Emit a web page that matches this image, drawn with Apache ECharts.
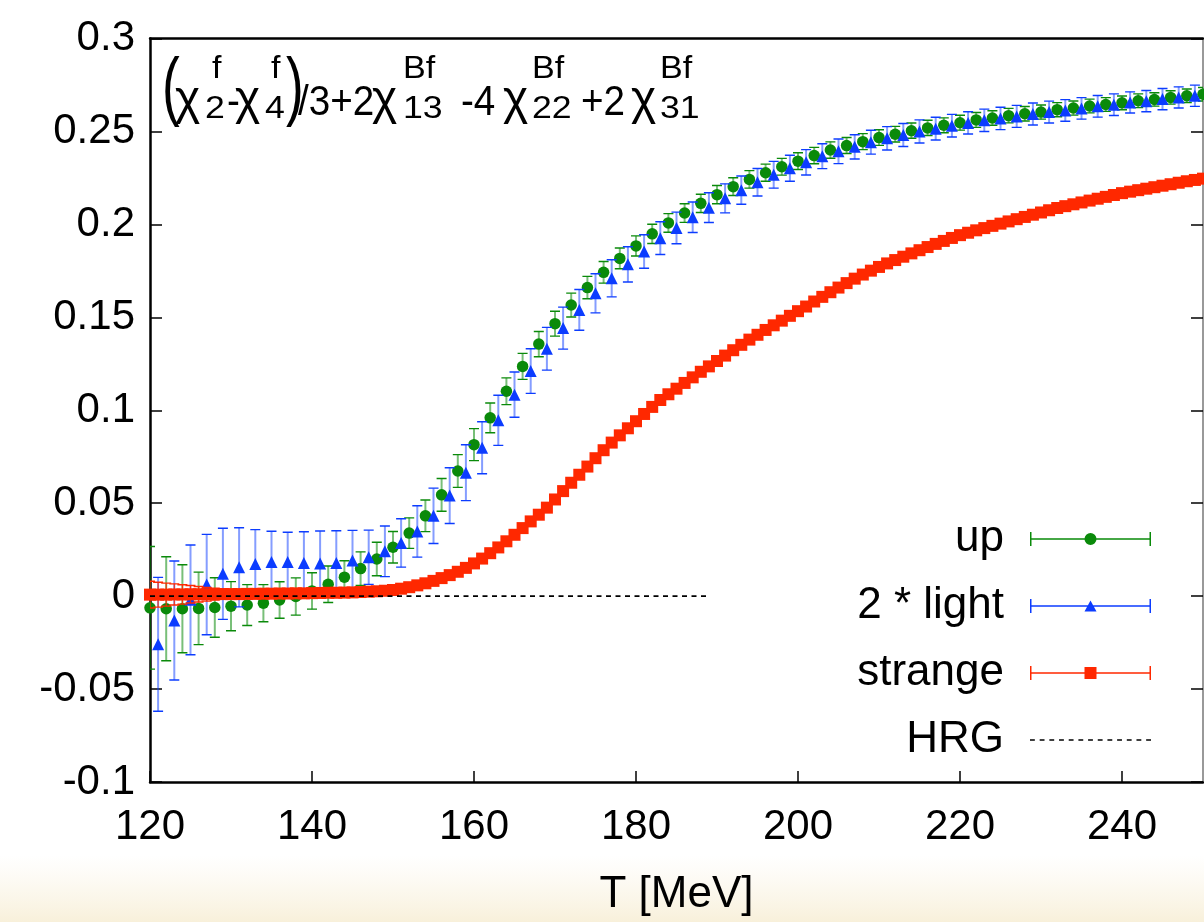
<!DOCTYPE html>
<html><head><meta charset="utf-8">
<script src="https://cdn.jsdelivr.net/npm/echarts@6/dist/echarts.min.js"></script>
<style>html,body{margin:0;padding:0;background:#fff}#c{width:1204px;height:922px}</style>
</head><body><div id="c"></div><script>
// ---------------- data ----------------
const upT = [120,122,124,126,128,130,132,134,136,138,140,142,144,146,148,150,152,154,156,158,160,162,164,166,168,170,172,174,176,178,180,182,184,186,188,190,192,194,196,198,200,202,204,206,208,210,212,214,216,218,220,222,224,226,228,230,232,234,236,238,240,242,244,246,248,250];
const upV = [-0.0063,-0.0068,-0.0068,-0.0066,-0.0061,-0.0054,-0.0048,-0.0038,-0.0021,-0.0002,0.0028,0.0064,0.0102,0.0148,0.0200,0.0263,0.0339,0.0432,0.0545,0.0673,0.0815,0.0959,0.1102,0.1236,0.1356,0.1466,0.1566,0.1660,0.1742,0.1817,0.1884,0.1949,0.2008,0.2061,0.2113,0.2160,0.2203,0.2242,0.2278,0.2310,0.2340,0.2370,0.2400,0.2424,0.2445,0.2467,0.2485,0.2504,0.2519,0.2533,0.2547,0.2562,0.2572,0.2585,0.2595,0.2604,0.2617,0.2626,0.2637,0.2645,0.2654,0.2665,0.2672,0.2683,0.2692,0.2700];
const upE = [0.0330,0.0280,0.0237,0.0195,0.0160,0.0132,0.0110,0.0100,0.0098,0.0100,0.0098,0.0098,0.0088,0.0090,0.0090,0.0085,0.0082,0.0085,0.0088,0.0088,0.0086,0.0080,0.0072,0.0070,0.0068,0.0067,0.0064,0.0060,0.0058,0.0056,0.0054,0.0052,0.0050,0.0050,0.0049,0.0049,0.0048,0.0047,0.0046,0.0045,0.0045,0.0044,0.0044,0.0043,0.0043,0.0042,0.0042,0.0041,0.0041,0.0040,0.0040,0.0040,0.0039,0.0039,0.0039,0.0038,0.0038,0.0038,0.0037,0.0037,0.0037,0.0037,0.0036,0.0036,0.0036,0.0036];

const lightT = [121,123,125,127,129,131,133,135,137,139,141,143,145,147,149,151,153,155,157,159,161,163,165,167,169,171,173,175,177,179,181,183,185,187,189,191,193,195,197,199,201,203,205,207,209,211,213,215,217,219,221,223,225,227,229,231,233,235,237,239,241,243,245,247,249];
const lightV = [-0.0259,-0.0131,-0.0020,0.0062,0.0120,0.0155,0.0173,0.0184,0.0184,0.0178,0.0175,0.0178,0.0191,0.0209,0.0241,0.0286,0.0348,0.0432,0.0541,0.0664,0.0798,0.0946,0.1084,0.1211,0.1331,0.1442,0.1540,0.1629,0.1710,0.1785,0.1854,0.1926,0.1981,0.2038,0.2090,0.2140,0.2184,0.2227,0.2267,0.2302,0.2334,0.2367,0.2393,0.2417,0.2442,0.2463,0.2481,0.2500,0.2515,0.2531,0.2546,0.2560,0.2570,0.2581,0.2594,0.2604,0.2613,0.2624,0.2635,0.2644,0.2656,0.2663,0.2674,0.2683,0.2692];
const lightE = [0.0360,0.0320,0.0295,0.0270,0.0245,0.0213,0.0185,0.0165,0.0160,0.0168,0.0175,0.0174,0.0163,0.0146,0.0136,0.0130,0.0138,0.0149,0.0150,0.0150,0.0140,0.0135,0.0122,0.0120,0.0115,0.0113,0.0110,0.0105,0.0100,0.0095,0.0090,0.0088,0.0085,0.0082,0.0080,0.0078,0.0076,0.0074,0.0072,0.0070,0.0068,0.0067,0.0066,0.0065,0.0064,0.0063,0.0062,0.0062,0.0061,0.0061,0.0060,0.0060,0.0060,0.0059,0.0059,0.0059,0.0058,0.0058,0.0058,0.0058,0.0057,0.0057,0.0057,0.0057,0.0057];

const strangeT = [120,121,122,123,124,125,126,127,128,129,
130,131,132,133,134,135,136,137,138,139,
140,141,142,143,144,145,146,147,148,149,
150,151,152,153,154,155,156,157,158,159,
160,161,162,163,164,165,166,167,168,169,
170,171,172,173,174,175,176,177,178,179,
180,181,182,183,184,185,186,187,188,189,
190,191,192,193,194,195,196,197,198,199,
200,201,202,203,204,205,206,207,208,209,
210,211,212,213,214,215,216,217,218,219,
220,221,222,223,224,225,226,227,228,229,
230,231,232,233,234,235,236,237,238,239,
240,241,242,243,244,245,246,247,248,249,
250];
const strangeV = [0.0008,0.0008,0.0008,0.0009,0.0009,0.0010,0.0010,0.0010,0.0011,0.0011,
0.0011,0.0011,0.0012,0.0012,0.0013,0.0013,0.0014,0.0014,0.0015,0.0015,
0.0016,0.0017,0.0018,0.0018,0.0019,0.0020,0.0022,0.0024,0.0026,0.0029,
0.0033,0.0040,0.0048,0.0058,0.0069,0.0082,0.0097,0.0113,0.0131,0.0152,
0.0176,0.0202,0.0231,0.0262,0.0295,0.0330,0.0366,0.0402,0.0438,0.0476,
0.0520,0.0565,0.0610,0.0653,0.0697,0.0742,0.0785,0.0826,0.0865,0.0903,
0.0941,0.0980,0.1018,0.1055,0.1086,0.1116,0.1147,0.1177,0.1207,0.1236,
0.1265,0.1294,0.1323,0.1352,0.1380,0.1406,0.1432,0.1457,0.1482,0.1508,
0.1533,0.1558,0.1585,0.1610,0.1635,0.1660,0.1684,0.1708,0.1730,0.1751,
0.1771,0.1790,0.1808,0.1826,0.1844,0.1861,0.1878,0.1895,0.1911,0.1927,
0.1942,0.1955,0.1968,0.1980,0.1992,0.2004,0.2016,0.2028,0.2040,0.2052,
0.2064,0.2076,0.2088,0.2098,0.2108,0.2118,0.2128,0.2138,0.2148,0.2158,
0.2168,0.2176,0.2184,0.2192,0.2200,0.2208,0.2216,0.2224,0.2232,0.2239,
0.2246];
const strangeE = [0.0072,0.0067,0.0062,0.0057,0.0052,0.0047,0.0042,0.0037,0.0032,0.0028,
0.0025,0.0022,0.0020,0.0018,0.0016,0.0015,0.0014,0.0013,0.0012,0.0012,
0.0012,0.0012,0.0012,0.0012,0.0012,0.0012,0.0012,0.0012,0.0012,0.0012,
0.0012,0.0011,0.0011,0.0011,0.0011,0.0011,0.0011,0.0011,0.0011,0.0011,
0.0010,0.0010,0.0010,0.0010,0.0010,0.0010,0.0010,0.0010,0.0010,0.0010,
0.0010,0.0010,0.0010,0.0010,0.0010,0.0010,0.0010,0.0010,0.0010,0.0010,
0.0010,0.0010,0.0010,0.0010,0.0010,0.0010,0.0010,0.0010,0.0010,0.0010,
0.0010,0.0010,0.0010,0.0010,0.0010,0.0010,0.0010,0.0010,0.0010,0.0010,
0.0010,0.0010,0.0010,0.0010,0.0010,0.0010,0.0010,0.0010,0.0010,0.0010,
0.0010,0.0010,0.0010,0.0010,0.0010,0.0010,0.0010,0.0010,0.0010,0.0010,
0.0010,0.0010,0.0010,0.0010,0.0010,0.0010,0.0010,0.0010,0.0010,0.0010,
0.0010,0.0010,0.0010,0.0010,0.0010,0.0010,0.0010,0.0010,0.0010,0.0010,
0.0010,0.0010,0.0010,0.0010,0.0010,0.0010,0.0010,0.0010,0.0010,0.0010,
0.0010];

const hrgT = [120, 189];
const hrgV = [0, 0];

const seriesNames = ['up', '2 * light', 'strange', 'HRG'];
const xTickLabels = ['120','140','160','180','200','220','240'];
const yTickLabels = ['-0.1','-0.05','0','0.05','0.1','0.15','0.2','0.25','0.3'];
const axisTitle = 'T [MeV]';

// ---------------- styling ----------------
const FONT = '"Liberation Sans", Arial, Helvetica, sans-serif';
const C_UP = '#0a8a0a', C_LIGHT = '#0c3cff', C_STR = '#ff2800';

function pts(T, V) { return T.map((t, i) => [t, V[i]]); }
function errPts(T, V, E) { return T.map((t, i) => [t, V[i], E[i]]); }

function errRender(color, capW, barOpacity, lw) {
  return function (params, api) {
    const x = api.value(0), y = api.value(1), e = api.value(2);
    const top = api.coord([x, y + e]);
    const bot = api.coord([x, y - e]);
    const h = capW / 2;
    return {
      type: 'group',
      children: [
        { type: 'line', shape: { x1: top[0], y1: top[1], x2: bot[0], y2: bot[1] }, style: { stroke: color, lineWidth: lw, opacity: barOpacity } },
        { type: 'line', shape: { x1: top[0] - h, y1: top[1], x2: top[0] + h, y2: top[1] }, style: { stroke: color, lineWidth: 1.4 } },
        { type: 'line', shape: { x1: bot[0] - h, y1: bot[1], x2: bot[0] + h, y2: bot[1] }, style: { stroke: color, lineWidth: 1.4 } }
      ]
    };
  };
}

// legend icons: error bar with marker (121 x 14)
const barPart = 'M0,0H1.5V14H0Z M119.5,0H121V14H119.5Z M0,6.3H121V7.7H0Z ';
const upIcon = 'path://' + barPart + 'M54.5,7A6,6 0 1 1 66.5,7A6,6 0 1 1 54.5,7Z';
const lightIcon = 'path://' + barPart + 'M60.5,1.5L66.5,12.5L54.5,12.5Z';
const strIcon = 'path://' + barPart + 'M54.5,1H66.5V13H54.5Z';
let dashPath = 'path://';
for (let k = 0; k < 13; k++) { const s = k * 9.6; dashPath += 'M' + s + ',0H' + (s + 4.8) + 'V1.5H' + s + 'Z '; }
const hrgIcon = dashPath;

// ---------------- title pieces (text + anchor positions) ----------------
const titleParts = [
  { t: '(', x: 162, kind: 'big' },
  { t: 'χ', x: 175, kind: 'chi' },
  { sup: 'f', sub: '2', x: 205, supX: 212 },
  { t: '-', x: 227, kind: 'main' },
  { t: 'χ', x: 235, kind: 'chi' },
  { sup: 'f', sub: '4', x: 265, supX: 271 },
  { t: ')', x: 286, kind: 'big' },
  { t: '/3+2', x: 298, kind: 'main' },
  { t: 'χ', x: 372, kind: 'chi' },
  { sup: 'Bf', sub: '13', x: 403 },
  { t: '-4', x: 461, kind: 'main' },
  { t: 'χ', x: 503, kind: 'chi' },
  { sup: 'Bf', sub: '22', x: 532 },
  { t: '+2', x: 581, kind: 'main' },
  { t: 'χ', x: 631, kind: 'chi' },
  { sup: 'Bf', sub: '31', x: 660 }
];
const FS_MAIN = 42, FS_CHI = 48, FS_SCR = 31, FS_BIG = 76;
const titleEls = [];
titleParts.forEach(p => {
  const base = { fontFamily: FONT, fill: '#000', align: 'left', verticalAlign: 'middle' };
  if (p.t !== undefined) {
    if (p.kind === 'big') {
      titleEls.push({ type: 'text', x: p.x, y: 90, scaleX: 0.7, style: Object.assign({ text: p.t, fontSize: FS_BIG }, base) });
    } else if (p.kind === 'chi') {
      titleEls.push({ type: 'text', x: p.x, y: 101, scaleX: 1.0, style: Object.assign({ text: p.t, fontSize: FS_CHI }, base) });
    } else {
      titleEls.push({ type: 'text', x: p.x, y: 103.5, scaleX: 0.92, style: Object.assign({ text: p.t, fontSize: FS_MAIN }, base) });
    }
  } else {
    titleEls.push({ type: 'text', x: p.supX || p.x, y: 69, scaleX: 1.1, style: Object.assign({ text: p.sup, fontSize: FS_SCR }, base) });
    titleEls.push({ type: 'text', x: p.x, y: 109, scaleX: 1.15, style: Object.assign({ text: p.sub, fontSize: FS_SCR }, base) });
  }
});

// ---------------- chart ----------------
const chart = echarts.init(document.getElementById('c'), null, { renderer: 'canvas' });
const yFmt = v => { const s = String(+(+v).toFixed(2)); return yTickLabels.indexOf(s) >= 0 ? s : ''; };
const xFmt = v => { const s = String(Math.round(v)); return xTickLabels.indexOf(s) >= 0 ? s : ''; };

chart.setOption({
  animation: false,
  backgroundColor: '#fff',
  textStyle: { fontFamily: FONT },
  grid: { left: 150, right: 1, top: 38.5, bottom: 137, containLabel: false },
  xAxis: [{
    type: 'value', position: 'bottom', min: 120, max: 250, interval: 20,
    name: axisTitle, nameLocation: 'middle', nameGap: 91,
    nameTextStyle: { fontSize: 44, color: '#000', fontFamily: FONT },
    axisLine: { show: true, onZero: false, lineStyle: { color: '#000', width: 2.5 } },
    axisTick: { show: true, inside: true, length: 11, lineStyle: { color: '#000', width: 1.5 } },
    axisLabel: { fontSize: 42, color: '#000', margin: 24, fontFamily: FONT, formatter: xFmt, showMaxLabel: false },
    splitLine: { show: false }
  }, {
    type: 'value', position: 'top', min: 120, max: 250, interval: 20,
    axisLine: { show: true, onZero: false, lineStyle: { color: '#000', width: 2.5 } },
    axisTick: { show: false }, axisLabel: { show: false }, splitLine: { show: false }
  }],
  yAxis: [{
    type: 'value', position: 'left', min: -0.1, max: 0.3, interval: 0.05,
    axisLine: { show: true, onZero: false, lineStyle: { color: '#000', width: 2.5 } },
    axisTick: { show: true, inside: true, length: 12, lineStyle: { color: '#000', width: 1.5 } },
    axisLabel: { fontSize: 42, color: '#000', margin: 15, fontFamily: FONT, formatter: yFmt },
    splitLine: { show: false }
  }, {
    type: 'value', position: 'right', min: -0.1, max: 0.3, interval: 0.05,
    axisLine: { show: true, onZero: false, lineStyle: { color: '#777', width: 1.5 } },
    axisTick: { show: true, inside: true, length: 12, lineStyle: { color: '#000', width: 1.5 } },
    axisLabel: { show: false }, splitLine: { show: false }
  }],
  legend: {
    orient: 'vertical', align: 'right', right: 53, top: 517, padding: 0,
    itemWidth: 121, itemHeight: 14, itemGap: 23, selectedMode: false,
    textStyle: { fontSize: 44, color: '#000', fontFamily: FONT, lineHeight: 44, padding: [0, 21, 0, 0] },
    data: [
      { name: seriesNames[0], icon: upIcon },
      { name: seriesNames[1], icon: lightIcon },
      { name: seriesNames[2], icon: strIcon },
      { name: seriesNames[3], icon: hrgIcon }
    ]
  },
  graphic: [
    { type: 'rect', z: -10, silent: true, shape: { x: 0, y: 855, width: 1204, height: 67 },
      style: { fill: new echarts.graphic.LinearGradient(0, 0, 0, 1, [
        { offset: 0, color: 'rgba(250,244,228,0)' }, { offset: 1, color: 'rgba(248,240,218,1)' }]) } },
    { type: 'group', silent: true, z: 100, children: titleEls }
  ],
  series: [
    { name: seriesNames[0], type: 'scatter', data: pts(upT, upV), symbol: 'circle', symbolSize: 11.5,
      itemStyle: { color: C_UP, opacity: 1 }, z: 3, clip: true },
    { name: seriesNames[0], type: 'custom', data: errPts(upT, upV, upE), renderItem: errRender(C_UP, 10, 0.55, 2),
      itemStyle: { color: C_UP }, z: 2, clip: true },
    { name: seriesNames[1], type: 'scatter', data: pts(lightT, lightV), symbol: 'triangle', symbolSize: 12,
      itemStyle: { color: C_LIGHT, opacity: 1 }, z: 5, clip: true },
    { name: seriesNames[1], type: 'custom', data: errPts(lightT, lightV, lightE), renderItem: errRender(C_LIGHT, 10, 0.5, 2),
      itemStyle: { color: C_LIGHT }, z: 4, clip: true },
    { name: seriesNames[2], type: 'scatter', data: pts(strangeT, strangeV), symbol: 'rect', symbolSize: 12,
      itemStyle: { color: C_STR, opacity: 1 }, z: 7, clip: true },
    { name: seriesNames[2], type: 'custom', data: errPts(strangeT, strangeV, strangeE), renderItem: errRender(C_STR, 10, 0.9, 1.2),
      itemStyle: { color: C_STR }, z: 6, clip: true },
    { name: seriesNames[3], type: 'line', data: pts(hrgT, hrgV), symbol: 'none', showSymbol: false,
      lineStyle: { color: '#000', width: 1.6, type: [5, 4.5] }, itemStyle: { color: '#000' }, z: 8, clip: true }
  ]
});
</script></body></html>
